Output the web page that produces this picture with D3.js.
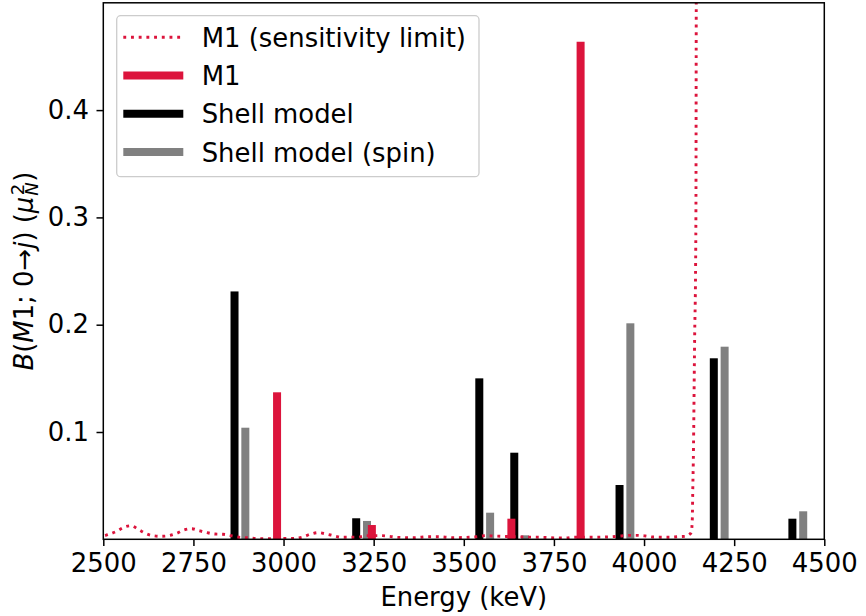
<!DOCTYPE html>
<html>
<head>
<meta charset="utf-8">
<script src="https://cdn.jsdelivr.net/npm/d3@7/dist/d3.min.js"></script>
<style>
  html, body { margin: 0; padding: 0; background: #fff; }
  svg { display: block; font-family: "DejaVu Sans", sans-serif; }
</style>
</head>
<body>
<svg id="chart" width="866" height="616"></svg>
<script>
// Shell-model level energies (keV) and B(M1) strengths (mu_N^2)
const levelEnergies = [2879, 3216.5, 3558, 3655, 3947, 4208.5, 4426.5];
const shellB        = [0.231, 0.0196, 0.150, 0.0807, 0.0506, 0.1687, 0.0192];
const shellSpinB    = [0.104, 0.0171, 0.0248, 0.0037, 0.2013, 0.1795, 0.0261];

// Measured M1 transitions
const m1Energies = [2982, 3245, 3632, 3824];
const m1B        = [0.137, 0.0133, 0.0192, 0.4637];

// Sensitivity limit curve
const limitEnergies = [2505, 2516, 2537, 2557, 2577, 2597, 2617, 2637, 2659, 2681, 2704, 2724, 2745, 2766,
  2788, 2810, 2832, 2854, 2876, 2898, 2920, 2942, 2965, 3008, 3030, 3053, 3074, 3096, 3118, 3139, 3161,
  3206, 3228, 3271, 3293, 3316, 3360, 3404, 3427, 3471, 3515, 3537, 3560, 3582, 3605, 3673, 3716, 3761,
  3783, 3804, 3848, 3893, 3937, 3959, 3981, 4004, 4026, 4070, 4092, 4114, 4126, 4131, 4134, 4135,
  4136.7, 4140.5, 4143, 4144, 4144.6, 4145.2];
const limitB = [0.0035, 0.0047, 0.0075, 0.0112, 0.0127, 0.0093, 0.0056, 0.0034, 0.0028, 0.0034, 0.0056, 0.0087,
  0.0099, 0.008, 0.0062, 0.0049, 0.0047, 0.0034, 0.0019, 0.0015, 0.0009, 0.0006, 0.0006, 0.0009, 0.0009,
  0.0021, 0.0047, 0.0062, 0.0049, 0.0034, 0.0019, 0.0019, 0.0034, 0.0034, 0.0028, 0.0019, 0.0015, 0.0024,
  0.0024, 0.0015, 0.0019, 0.0024, 0.0034, 0.0031, 0.0028, 0.0021, 0.0019, 0.0012, 0.0012, 0.0019, 0.0019,
  0.0021, 0.0031, 0.0037, 0.0037, 0.0031, 0.0021, 0.0019, 0.0024, 0.0028, 0.0045, 0.0065, 0.02, 0.043,
  0.074, 0.192, 0.254, 0.316, 0.45, 0.6];

const xTicks = [2500, 2750, 3000, 3250, 3500, 3750, 4000, 4250, 4500];
const yTicks = [0.1, 0.2, 0.3, 0.4];

const pairOffset = 15;   // keV shift separating the two shell-model bars
const barWidth = 8;      // px
const fontSize = 25.9;

const svg = d3.select("#chart");
const m = { left: 103.3, right: 824.3, top: 2.8, bottom: 539.3 };

const x = d3.scaleLinear().domain([2500, 4500]).range([m.left, m.right]);
const y = d3.scaleLinear().domain([0, 0.5]).range([m.bottom, m.top]);

svg.append("defs").append("clipPath").attr("id", "plotclip")
  .append("rect").attr("x", m.left).attr("y", m.top)
  .attr("width", m.right - m.left).attr("height", m.bottom - m.top);

const plot = svg.append("g").attr("clip-path", "url(#plotclip)");

function bars(energies, values, color, shift) {
  plot.append("g").selectAll("rect").data(energies).join("rect")
    .attr("x", (d) => x(d + shift) - barWidth / 2)
    .attr("width", barWidth)
    .attr("y", (d, i) => y(values[i]))
    .attr("height", (d, i) => y(0) - y(values[i]))
    .attr("fill", color);
}
bars(levelEnergies, shellB, "#000000", -pairOffset);
bars(levelEnergies, shellSpinB, "#808080", pairOffset);
bars(m1Energies, m1B, "#dc143c", 0);

const limitLine = d3.line()
  .x((d) => x(d[0])).y((d) => y(d[1]))
  .curve(d3.curveMonotoneX);
plot.append("path")
  .datum(limitEnergies.map((e, i) => [e, limitB[i]]))
  .attr("d", limitLine)
  .attr("fill", "none")
  .attr("stroke", "#dc143c")
  .attr("stroke-width", 2.9)
  .attr("stroke-dasharray", "2.9 4.8");

// Axes
const xAxis = svg.append("g").attr("transform", `translate(0,${m.bottom})`)
  .call(d3.axisBottom(x).tickValues(xTicks).tickFormat(d3.format("d")).tickSize(6.8).tickPadding(7.5));
const yAxis = svg.append("g").attr("transform", `translate(${m.left},0)`)
  .call(d3.axisLeft(y).tickValues(yTicks).tickFormat(d3.format(".1f")).tickSize(6.8).tickPadding(7.5));

[xAxis, yAxis].forEach((g) => {
  g.select(".domain").remove();
  g.selectAll(".tick line").attr("stroke", "#000").attr("stroke-width", 1.5);
  g.selectAll(".tick text").attr("fill", "#000")
    .style("font-family", "DejaVu Sans").style("font-size", fontSize + "px");
});

// Frame
svg.append("rect")
  .attr("x", m.left).attr("y", m.top)
  .attr("width", m.right - m.left).attr("height", m.bottom - m.top)
  .attr("fill", "none").attr("stroke", "#000").attr("stroke-width", 1.5);

// Axis labels
svg.append("text")
  .attr("x", (m.left + m.right) / 2).attr("y", 606)
  .attr("text-anchor", "middle")
  .style("font-size", fontSize + "px")
  .text("Energy (keV)");

const yl = svg.append("text")
  .attr("transform", `translate(33,${(m.top + m.bottom) / 2}) rotate(-90)`)
  .attr("text-anchor", "middle")
  .style("font-size", fontSize + "px");
yl.append("tspan").style("font-style", "italic").text("B");
yl.append("tspan").text("(");
yl.append("tspan").style("font-style", "italic").text("M");
yl.append("tspan").text("1; 0→");
yl.append("tspan").style("font-style", "italic").text("j");
yl.append("tspan").text(") (");
yl.append("tspan").style("font-style", "italic").text("μ");
const subSize = fontSize * 0.7;
yl.append("tspan").style("font-style", "italic").style("font-size", subSize + "px")
  .attr("dx", 1).attr("dy", 5).text("N");
yl.append("tspan").style("font-size", subSize + "px")
  .attr("dx", -subSize * 0.72).attr("dy", -14).text("2");
yl.append("tspan").attr("dx", 2).attr("dy", 9).text(")");

// Legend
const legend = svg.append("g");
legend.append("rect")
  .attr("x", 116.7).attr("y", 15.7).attr("width", 362.3).attr("height", 161)
  .attr("rx", 4).attr("ry", 4)
  .attr("fill", "#fff").attr("fill-opacity", 0.8)
  .attr("stroke", "#cccccc").attr("stroke-width", 1.3);

const legendItems = [
  { label: "M1 (sensitivity limit)", color: "#dc143c", width: 2.9, dash: "2.9 4.8" },
  { label: "M1", color: "#dc143c", width: 8, dash: null },
  { label: "Shell model", color: "#000000", width: 8, dash: null },
  { label: "Shell model (spin)", color: "#808080", width: 8, dash: null }
];
legendItems.forEach((it, i) => {
  const base = 46.7 + i * 38.3;
  legend.append("line")
    .attr("x1", 123.3).attr("x2", 183.3)
    .attr("y1", base - 9.5).attr("y2", base - 9.5)
    .attr("stroke", it.color).attr("stroke-width", it.width)
    .attr("stroke-dasharray", it.dash);
  legend.append("text")
    .attr("x", 201.7).attr("y", base)
    .style("font-size", fontSize + "px")
    .text(it.label);
});
</script>
</body>
</html>
